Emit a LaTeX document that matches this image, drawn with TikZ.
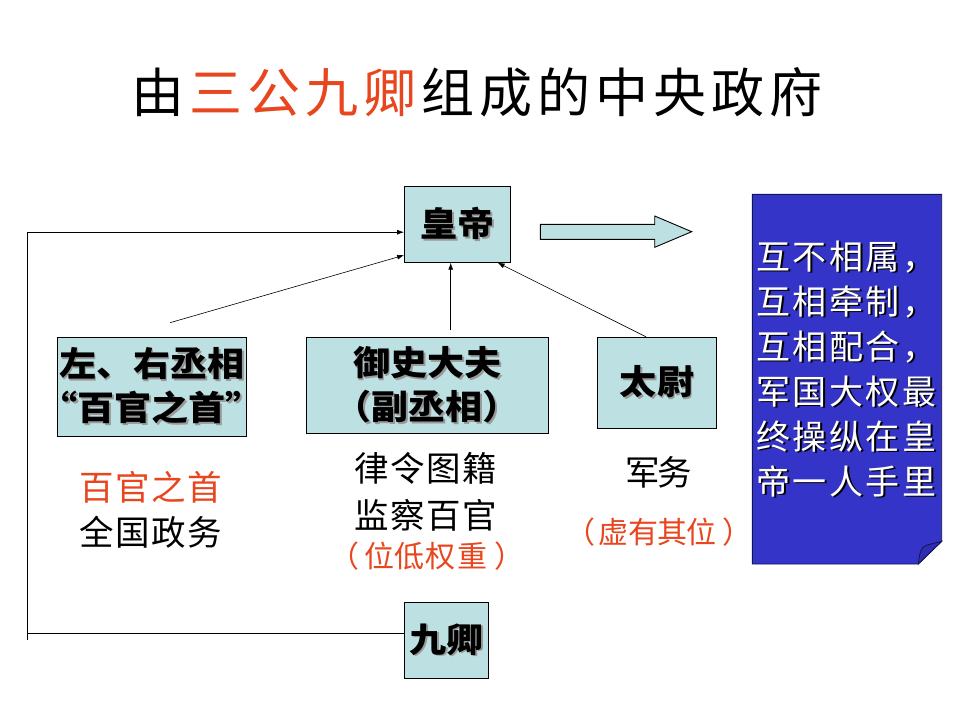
\documentclass[tikz,border=0pt]{standalone}
\usepackage{fontspec}
\setmainfont{Noto Sans CJK SC}
\usetikzlibrary{calc,arrows.meta}
\definecolor{boxc}{HTML}{BDE1E3}
\definecolor{redt}{HTML}{E8461E}
\definecolor{notec}{HTML}{3434C8}
\definecolor{foldc}{HTML}{2E2EB0}
\definecolor{noteline}{HTML}{141450}
\makeatletter
\newcommand\spc[2]{\@tfor\sp@c:=#2\do{\makebox[#1]{\sp@c}}}
\makeatother
\newcommand\shtext[2][black!40]{\makebox[0pt][l]{\kern1.8pt\raisebox{-1.8pt}{\textcolor{#1}{#2}}}#2}
\newcommand\bx[1]{\shtext{\scalebox{1.09}[1]{#1}}}
\newcommand\nt[1]{\shtext[black]{\spc{36.5pt}{#1}}}
\newcommand\myLq{\makebox[0.5em][r]{“}}
\newcommand\myRq{\makebox[0.5em][l]{”}}
\newcommand\paren[2]{（\kern4pt\spc{#1}{#2}\kern7pt）}
\begin{document}
\begin{tikzpicture}[x=1pt,y=-1pt,
  box/.style={draw=black,line width=1pt,fill=boxc,inner sep=0pt,align=center,
    font=\fontsize{34}{44}\selectfont\bfseries},
  lbl/.style={inner sep=0pt,font=\fontsize{34.5}{46}\selectfont},
  lbls/.style={inner sep=0pt,font=\fontsize{30}{36}\selectfont,text=redt},
  arr/.style={-{Latex[length=7pt,width=5pt]},line width=0.7pt}]
\useasboundingbox (0,0) rectangle (960,720);
\fill[white] (0,0) rectangle (960,720);
% title
\node[inner sep=0pt,font=\fontsize{53}{53}\selectfont] (title) at (477,92)
  {\spc{58pt}{由}\textcolor{redt}{\spc{58pt}{三公九卿}}\spc{58pt}{组成的中央政府}};
% boxes
\node[box,minimum width=106pt,minimum height=76pt] (huangdi) at (457.6,224.2) {\bx{皇帝}};
\node[box,minimum width=189.4pt,minimum height=98.7pt] (zuoyou) at (151.7,386.7) {\bx{左、右丞相}\\\bx{\myLq 百官之首\myRq}};
\node[box,minimum width=241.8pt,minimum height=96pt] (yushi) at (427.3,385.3) {\bx{御史大夫}\\\bx{（副丞相）}};
\node[box,minimum width=119.4pt,minimum height=91pt] (taiwei) at (657,382.8) {\bx{太尉}};
\node[box,minimum width=83.6pt,minimum height=75.6pt] (jiuqing) at (446.4,640.5) {\bx{九卿}};
% labels
\node[lbl,text=redt] (l1) at (151,487) {\spc{36pt}{百官之首}};
\node[lbl] (l2) at (151,532) {\spc{36pt}{全国政务}};
\node[lbl] (l3) at (426,468) {\spc{36pt}{律令图籍}};
\node[lbl] (l4) at (426,515) {\spc{36pt}{监察百官}};
\node[lbls] (l5) at (427,556) {\paren{31pt}{位低权重}};
\node[lbl] (l6) at (659,472) {\spc{32pt}{军务}};
\node[lbls] (l7) at (659,532) {\paren{29pt}{虚有其位}};
% block arrow
\draw[fill=boxc,line width=0.9pt] (540.3,224.3) -- (654.7,224.3) -- (654.7,216) -- (691.7,231.7)
  -- (654.7,247.3) -- (654.7,239.3) -- (540.3,239.3) -- cycle;
% note
\draw[line width=0.9pt,draw=noteline,fill=notec] (752.3,194.3) -- (941.7,194.3) -- (941.7,541.3)
  -- (918.3,564) -- (752.3,564) -- cycle;
\draw[line width=0.8pt,draw=noteline,fill=foldc] (918.3,564) .. controls (919.5,553) and (921,546.5) .. (927,545)
  -- (941.7,541.3) -- cycle;
\node[anchor=west,inner sep=0pt,align=left,text=white,font=\fontsize{34}{45}\selectfont] (notetext) at (755,369.5)
  {\nt{互不相属，}\\\nt{互相牵制，}\\\nt{互相配合，}\\\nt{军国大权最}\\\nt{终操纵在皇}\\\nt{帝一人手里}};
% connectors
\coordinate (lb) at (27,640);
\draw[line width=0.8pt] ($(jiuqing.west)+(0,-7.5)$) -| (lb);
\draw[arr,line width=0.8pt] (lb) |- ($(huangdi.west)+(0,8)$);
\coordinate (zs) at (170,322.7);
\draw[arr,line width=0.6pt] (zs) -- ($(huangdi.west)+(0,31)$);
\coordinate (ys) at (450.7,330);
\draw[arr] (ys) -- (ys |- huangdi.south);
\draw[arr,line width=0.6pt] ($(taiwei.north)+(-11,0)$) -- ($(huangdi.south)+(40,0)$);
\end{tikzpicture}
\end{document}
